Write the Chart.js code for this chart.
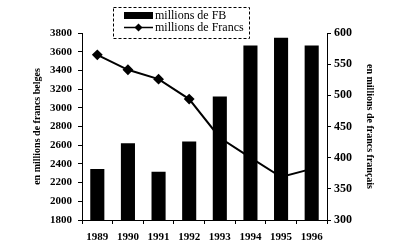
<!DOCTYPE html>
<html lang="fr">
<head>
    <meta charset="UTF-8">
    <title>Millions de FB / millions de Francs</title>
    <script src="https://cdn.jsdelivr.net/npm/chart.js"></script>
    <style>
        body {
            margin: 0;
            background-color: #ffffff;
        }
        .wrap {
            width: 400px;
            height: 245px;
        }
    </style>
</head>
<body>
    <div class="wrap">
        <canvas id="chart"></canvas>
    </div>

    <script>
        // données
        const years = ['1989', '1990', '1991', '1992', '1993', '1994', '1995', '1996'];
        const fbValues = [2345, 2620, 2315, 2640, 3120, 3665, 3750, 3665];
        const francsValues = [565, 541, 526, 494, 432, 400, 369, 382];
        const fbLabel = 'millions de FB';
        const francsLabel = 'millions de Francs';
        const leftTitle = 'en millions de francs belges';
        const rightTitle = 'en millions de francs français';

        const serif = "'Liberation Serif', 'DejaVu Serif', serif";

        // légende encadrée en pointillés, dessinée par-dessus le graphique
        const boxLegend = {
            id: 'boxLegend',
            afterDraw(chart) {
                const ctx = chart.ctx;
                const ds = chart.data.datasets;
                ctx.save();
                ctx.strokeStyle = '#000';
                ctx.lineWidth = 1;
                ctx.setLineDash([3, 2]);
                ctx.fillStyle = '#fff';
                ctx.fillRect(113.5, 7.5, 136, 31);
                ctx.strokeRect(113.5, 7.5, 136, 31);
                ctx.setLineDash([]);

                ctx.font = "12px " + serif;
                ctx.textBaseline = 'middle';

                // barres
                ctx.fillStyle = ds[0].backgroundColor;
                ctx.fillRect(124, 12, 29, 7);
                ctx.fillStyle = '#000';
                ctx.fillText(ds[0].label, 155, 15.5);

                // ligne
                ctx.beginPath();
                ctx.moveTo(124, 27.5);
                ctx.lineTo(153, 27.5);
                ctx.lineWidth = 1.5;
                ctx.stroke();
                ctx.beginPath();
                ctx.moveTo(138.5, 23.5);
                ctx.lineTo(142.5, 27.5);
                ctx.lineTo(138.5, 31.5);
                ctx.lineTo(134.5, 27.5);
                ctx.closePath();
                ctx.fill();
                ctx.fillText(ds[1].label, 155, 27.5);
                ctx.restore();
            }
        };

        const ctx = document.getElementById('chart').getContext('2d');
        const chart = new Chart(ctx, {
            data: {
                labels: years,
                datasets: [
                    {
                        type: 'bar',
                        label: fbLabel,
                        data: fbValues,
                        backgroundColor: '#000',
                        borderWidth: 0,
                        barPercentage: 0.46,
                        categoryPercentage: 1,
                        yAxisID: 'y',
                        order: 1
                    },
                    {
                        type: 'line',
                        label: francsLabel,
                        data: francsValues,
                        borderColor: '#000',
                        backgroundColor: '#000',
                        borderWidth: 2,
                        pointStyle: 'rectRot',
                        pointRadius: 4,
                        tension: 0,
                        yAxisID: 'y1',
                        order: 0
                    }
                ]
            },
            options: {
                responsive: true,
                maintainAspectRatio: false,
                animation: false,
                layout: {
                    padding: { top: 33, bottom: 0, left: 0, right: 0 }
                },
                plugins: {
                    legend: { display: false },
                    tooltip: { enabled: false }
                },
                scales: {
                    x: {
                        grid: {
                            offset: true,
                            drawOnChartArea: false,
                            tickLength: 4,
                            color: '#000'
                        },
                        border: { color: '#000', width: 1 },
                        ticks: {
                            color: '#000',
                            padding: 7,
                            maxRotation: 0,
                            font: { family: serif, size: 11, weight: 'bold' }
                        },
                        afterFit(scale) { scale.height = 25; }
                    },
                    y: {
                        position: 'left',
                        min: 1800,
                        max: 3800,
                        ticks: {
                            stepSize: 200,
                            color: '#000',
                            padding: 6,
                            font: { family: serif, size: 11, weight: 'bold' },
                            callback: v => String(v)
                        },
                        grid: {
                            drawOnChartArea: false,
                            tickLength: 4,
                            color: '#000'
                        },
                        border: { color: '#000', width: 1 },
                        title: {
                            display: true,
                            text: leftTitle,
                            color: '#000',
                            padding: { top: 31, bottom: 0 },
                            font: { family: serif, size: 10, weight: 'bold' }
                        },
                        afterFit(scale) { scale.width = 82; }
                    },
                    y1: {
                        position: 'right',
                        min: 300,
                        max: 600,
                        ticks: {
                            stepSize: 50,
                            color: '#000',
                            padding: 3,
                            font: { family: serif, size: 12, weight: 'bold' },
                            callback: v => String(v)
                        },
                        grid: {
                            drawOnChartArea: false,
                            tickLength: 4,
                            color: '#000'
                        },
                        border: { color: '#000', width: 1 },
                        title: {
                            display: true,
                            text: rightTitle,
                            color: '#000',
                            padding: { top: 24, bottom: 0 },
                            font: { family: serif, size: 10, weight: 'bold' }
                        },
                        afterFit(scale) { scale.width = 73; }
                    }
                }
            },
            plugins: [boxLegend]
        });
    </script>
</body>
</html>
